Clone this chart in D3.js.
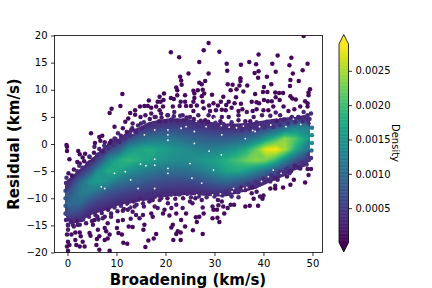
<!DOCTYPE html>
<html>
<head>
<meta charset="utf-8">
<script src="https://d3js.org/d3.v7.min.js"></script>
<style>
  html, body { margin: 0; padding: 0; background: #fff; }
  svg { display: block; }
  text { font-family: "DejaVu Sans", sans-serif; fill: #000; }
</style>
</head>
<body>
<svg id="chart" width="432" height="288"></svg>
<script>
// density, in units of 1e-4
const gridX = [0.5, 2.5, 4.5, 6.5, 8.5, 10.5, 12.5, 14.5, 16.5, 18.5, 20.5, 22.5, 24.5, 26.5, 28.5, 30.5, 32.5, 34.5, 36.5, 38.5, 40.5, 42.5, 44.5, 46.5, 48.5];
const gridY = [9, 7, 5, 3, 1, -1, -3, -5, -7, -9, -11, -13, -15, -17];
const densityRows = [
  [0, 0, 0, 0, 0, 0, 0, 0, 0, 0, 0.5, 0.6, 0.5, 0, 0, 0, 0, 0, 0, 0, 0, 0, 0, 0, 0],
  [0, 0, 0, 0, 0, 0, 0, 0, 0.6, 0.8, 1, 1.2, 1, 0.9, 0.8, 0.8, 0.7, 0.6, 0.6, 0.6, 0.7, 0.8, 0.9, 1, 1],
  [0, 0, 0, 0, 0, 0, 0.6, 1, 1.5, 2, 2.5, 2.6, 2.4, 2.1, 1.9, 1.8, 1.7, 1.7, 1.7, 1.8, 2, 2.2, 2.5, 3, 3.5],
  [0, 0, 0, 0, 0.5, 1, 2, 3, 4.5, 5.5, 6, 6, 5.5, 5, 4.5, 4, 3.8, 3.8, 4, 4.5, 5.5, 7.5, 10, 13, 13],
  [0, 0, 0.3, 0.8, 1.5, 3, 6.5, 9, 11, 11.5, 11.5, 11, 10, 9, 8.5, 8.5, 8.5, 9, 10, 12, 15.5, 19.5, 24, 21, 17],
  [0, 0.3, 1, 2.2, 6, 9, 15, 17, 18, 17, 16, 15, 14, 13, 12.5, 13, 14, 15.5, 18, 22.5, 28, 29, 25, 18, 12],
  [0.3, 1, 2.8, 7, 14, 18, 19.5, 18, 17, 15.5, 14.5, 14, 14, 15, 16, 17, 18.5, 20.5, 22.5, 24, 23, 19, 13, 8, 5],
  [1.5, 3.5, 8, 15, 18, 17, 14.5, 13, 12, 11, 10.5, 10.5, 11, 11.5, 13, 15, 17, 17.5, 16, 13, 10, 7, 4, 2.5, 1.5],
  [4, 10, 15, 16, 14, 11, 10, 9, 8, 7, 6.5, 6.5, 6.5, 7, 8, 9, 9.5, 8.5, 7, 5, 3.5, 2.3, 1.4, 0.7, 0.3],
  [8, 12, 12, 9.5, 7.5, 6.5, 5.5, 5, 4.5, 4, 3.6, 3.5, 3.3, 3.4, 3.6, 3.8, 3.8, 3.2, 2.5, 1.7, 1, 0.6, 0.3, 0, 0],
  [10, 10, 6.5, 5, 4.2, 3.2, 2.9, 2.6, 2.3, 2, 1.8, 1.8, 1.6, 1.6, 1.6, 1.5, 1.3, 1, 0.7, 0.4, 0, 0, 0, 0, 0],
  [6.5, 5.5, 3.2, 2.5, 2, 1.8, 1.6, 1.4, 1.2, 1, 0.9, 0.9, 0.7, 0.7, 0.6, 0.5, 0.4, 0, 0, 0, 0, 0, 0, 0, 0],
  [2.5, 2, 1.5, 1.2, 1.2, 1, 1, 0.8, 0.7, 0.6, 0.5, 0.5, 0.3, 0.3, 0, 0, 0, 0, 0, 0, 0, 0, 0, 0, 0],
  [1, 0.8, 0.8, 0.7, 0.7, 0.6, 0.5, 0.4, 0.4, 0.3, 0, 0, 0, 0, 0, 0, 0, 0, 0, 0, 0, 0, 0, 0, 0]
];

// single points around the dense cloud, as [broadening, residual]
const pointsUpperRight = [
  [48.2, 19.9], [28.8, 18.6], [27.8, 17.3], [31, 17], [39, 16.5], [42.9, 16.3], [45.7, 15.9], [26.9, 15.1], [32.5, 14.8], [37.1, 15.1],
  [38.5, 14.7], [41.8, 14.8], [35.4, 14.6], [45.3, 14.5], [49, 14.8], [48, 13.6], [32.6, 13.5], [39, 13.4], [38.2, 13.1], [42.5, 13.3],
  [28.8, 13], [24.7, 13], [46, 13], [40.7, 12.4], [38.9, 12.2], [45.5, 11.8], [47.2, 11.6], [35.3, 12.1], [35.3, 11.6], [28.1, 11.6],
  [26.9, 11.3], [27.4, 11], [32.7, 11], [33.7, 10.9], [35.1, 10.8], [36.7, 10.8], [41.6, 11], [45.4, 10.7], [40.1, 10.5], [34.5, 10.1],
  [33.3, 9.9], [35.9, 9.7], [49.5, 10.1], [49.2, 9.5], [49.2, 9], [25.7, 9.8], [26.6, 9.9], [27.6, 10], [27.9, 9.3], [25.9, 9.3],
  [27.4, 8.8], [29.5, 9.1], [39.9, 9.6], [40.8, 9.6], [38.3, 9.2], [42.4, 9.5], [43.2, 9.4], [44, 9.4], [45.5, 8.8], [45.9, 8.4],
  [46.6, 8.2], [31.8, 8.7], [34.4, 8.6], [40.1, 8.1], [40.9, 7.9], [38.6, 7.7], [39.1, 7.5], [37.6, 7.8], [42.5, 8.6], [41.7, 7.9],
  [43.3, 8.1], [48.5, 7.9], [49, 7.5], [49, 6.9], [34.1, 7.5], [35.4, 7.4], [32.9, 7.8], [32.4, 7.2], [31.3, 7.8], [30.7, 7.1],
  [29.8, 7.5], [27.6, 7.8], [25.9, 8.5], [25.7, 7.8], [26.4, 7.1], [25.2, 7], [27.8, 6.6], [28.9, 7.1], [29.1, 6.1], [30.3, 6.2],
  [31.5, 6.3], [32.3, 6.2], [33.5, 6.7], [34.9, 6.1], [34.9, 5.3], [35.7, 6.4], [36.6, 5.9], [37.8, 6.1], [38.6, 6.4], [40, 6.2],
  [41, 6.2], [42, 6.9], [42.5, 5.8], [44.1, 6.9], [45.1, 6.1], [46.3, 6.4], [47.5, 6.9], [48.2, 5.9], [49, 5.3], [47.1, 5],
  [45.8, 5], [43.4, 5.3], [41.4, 5.2], [39.7, 5.3], [38, 5], [36.3, 4.2], [34.9, 4.4], [33.5, 4], [32.9, 5], [31.5, 5],
  [31.2, 4.2], [29.8, 5], [28.8, 5.3], [28.1, 4.4], [26.7, 5.3], [25.7, 6.1], [25, 5], [30.8, 3.2], [33.5, 2.9], [36.3, 3.2],
  [37.3, 4.2], [38.6, 4], [40.7, 4.1], [42.4, 3.8], [44.8, 4.1], [46.5, 4.4], [48.5, 4.4], [49.2, 3.8]
];
const pointsUpperLeft = [
  [21.1, 16.9], [22.8, 16], [23, 12.4], [23.2, 11.7], [23.3, 10.9], [22.2, 10.4], [22.4, 9.9], [19.7, 9.3], [22.4, 9], [24, 9],
  [11.2, 9.2], [10.8, 7], [9, 6.5], [8.6, 5.7], [18.8, 8.7], [21.1, 8.5], [21.7, 8.3], [19.6, 8.1], [16.6, 8], [18.4, 7.8],
  [19, 7.8], [23.1, 7.8], [24, 7.8], [14.8, 6.9], [15.7, 7], [16.4, 7], [17.1, 6.7], [18.1, 6.9], [18.8, 6.2], [19.5, 6.9],
  [21.5, 6.9], [22.9, 7], [24.2, 7], [13.8, 6.2], [12.8, 5.7], [13.8, 5.4], [12.4, 4.7], [11.8, 4.1], [9.6, 3.2], [4.8, 2],
  [7.1, 1.5], [6.5, 1.3], [6.7, 0.6], [5.6, 0.2], [-0.2, -0.2], [14.9, 5], [15.9, 5.3], [17.1, 5.6], [17.8, 5], [19.1, 5.6],
  [20.5, 5.3], [21.8, 5.9], [23.5, 5.3], [13.3, 3.8], [15, 3.8], [11.3, 2.9], [13, 2.6], [10.3, 2], [11, 1.3], [8.9, 0.6],
  [7.6, 0.3], [9.6, 1], [-0.1, -0.5], [-0.1, -1.3], [0.4, -2.8], [2.2, -1.3], [3.6, -1.8], [2.5, -1.9], [2, -3.3], [2.5, -3.6],
  [3.1, -2.5], [5.5, -0.5], [4.5, -2.3], [4.6, -3.3], [0.1, -7.9]
];
const pointsLowerLeft = [
  [0.1, -14.9], [1.1, -14.9], [2.1, -14.9], [0.1, -15.8], [-0.1, -16.7], [0.8, -16.7], [1.6, -16.3], [2.5, -16.3], [2.7, -17], [1.6, -17.7],
  [3.1, -18], [0.1, -18], [-0.1, -18.9], [0.4, -18.6], [0.1, -19.7], [1.8, -18.6], [2.5, -18.9], [3.5, -18.9], [4.5, -16.4], [4.7, -16.9],
  [6, -17.5], [6.5, -17], [7.6, -17.7], [8.2, -17.4], [8.6, -16.7], [6.5, -19.5], [8.6, -19.7], [5.9, -18.6], [7.9, -16.1], [7.6, -15.5],
  [6.2, -15.8], [5.2, -14.9], [4.2, -13.1], [6.1, -13.4], [7.2, -13.7], [8.2, -14.6], [8.9, -13.4], [10.3, -14.2], [11.3, -14], [10.1, -15.5],
  [10.4, -16.4], [11.1, -16.7], [11.4, -18.2], [12.2, -18.4], [12.5, -15.2], [13.3, -15.3], [15.7, -14.9], [15.5, -15.8], [18.1, -16.6], [17.6, -17.4],
  [16.5, -17.8], [15.9, -19], [14, -13.1], [14.7, -13.7], [12.9, -13.8], [13.3, -12.5], [13.7, -11.5], [12.3, -12.1], [11.3, -12.3], [15.6, -11.5],
  [15.4, -13.1], [17.1, -12.8], [17.4, -13.4], [19.5, -12.8], [20.8, -13.2], [22.2, -12.8], [23.2, -14], [21.5, -14.9], [21.2, -15.4], [22.5, -16.1],
  [22.2, -16.6], [23.1, -16.3], [21.6, -17.7], [23.1, -17.7], [24, -15.2], [16.1, -9.4], [17.4, -10.3], [17.8, -11.5], [16.7, -10.6], [19.1, -10],
  [20.5, -10.9], [18.4, -11.8], [19.8, -12.1], [21.2, -11.8], [22.2, -11.2], [23.5, -11.8], [24.2, -12.8], [5.5, -14], [2.8, -14], [1.1, -13.8],
  [9.3, -10.3], [11, -10.9], [12.7, -10.6], [14.4, -10]
];
const pointsLowerRight = [
  [48.5, -7.1], [46.2, -6.6], [45.5, -7.5], [44, -8], [42.4, -7.7], [42.4, -8.2], [41.4, -8.2], [41.4, -6.9], [42.9, -6.6], [44.8, -6],
  [45.3, -5.4], [47.5, -4.5], [49.2, -5.7], [49, -4.6], [49.7, -4.6], [49.3, -2.9], [40, -9.5], [39.8, -10.1], [39.3, -9.7], [38.9, -11.4],
  [38, -10.1], [38.6, -8.8], [37.6, -9.1], [37.2, -11.4], [36.3, -11.5], [34.9, -9.8], [34, -11.2], [33.3, -11.2], [32.7, -11.8], [33.5, -9.7],
  [31.8, -11.5], [32, -12.8], [30.8, -11.3], [30.5, -12.1], [29.6, -11.5], [29.8, -12.1], [30.7, -10.3], [31.5, -10.6], [27.8, -12.8], [27.6, -11.7],
  [26.9, -13.4], [26.2, -13.5], [26.4, -14.4], [29.6, -13.7], [30.6, -13.6], [31, -14.4], [25.6, -15.9], [27.6, -16.6], [25.5, -10.9], [25, -10.6],
  [27.4, -10.3], [26.1, -10], [34.9, -8.8], [36.3, -8.5], [38.3, -7.9], [40.4, -6.6], [43.4, -5.7], [47.8, -3.6]
];

// points along the rim of the dense cloud, top then bottom
const rimTop = [
  [-0.2, -6.2], [0.2, -5.4], [0.9, -5.8], [1.3, -4.7], [2, -5], [2.4, -4], [3.1, -4.4], [3.4, -3.2], [4.1, -3.6], [4.5, -2.4],
  [5.2, -2.9], [5.4, -1.6], [6.1, -2], [6.5, -0.9], [7.2, -1.4], [7.5, -0.3], [8.3, -0.8], [8.6, 0.2], [9.4, -0.2], [9.8, 0.9],
  [10.6, 0.4], [10.9, 1.5], [11.7, 1], [12.1, 2.2], [12.8, 1.5], [13.2, 2.9], [14, 2.2], [14.4, 3.4], [15.2, 2.9], [15.6, 4],
  [16.3, 3.3], [16.8, 4.6], [17.5, 3.8], [18, 5], [18.7, 4.2], [19.2, 4.9], [20, 4.2], [20.4, 5.3], [21.2, 4.5], [21.7, 5.1],
  [22.4, 4.3], [23, 5.2], [23.7, 4.4], [24.3, 4.9], [25.1, 3.9], [25.8, 4.6], [26.6, 3.6], [27.2, 4.3], [28, 3.5], [28.7, 4.1],
  [29.5, 3.1], [30.2, 3.9], [31, 3], [31.8, 3.7], [32.5, 2.9], [33.2, 3.4], [34.1, 2.7], [34.8, 3.3], [35.6, 2.6], [36.4, 3.6],
  [37.2, 2.8], [38, 3.3], [38.8, 2.8], [39.5, 3.8], [40.3, 3.1], [41.1, 4], [41.9, 3.2], [42.7, 4.2], [43.4, 3.5], [44.2, 4.5],
  [45, 3.8], [45.7, 4.8], [46.5, 4], [47.2, 4.9], [48, 4.2], [48.7, 5], [49.4, 4.6], [49.7, 5.6]
];
const rimBottom = [
  [-0.3, -14], [0.1, -15], [0.7, -14.3], [1.3, -15.2], [1.9, -14.2], [2.5, -14.9], [3.2, -13.9], [3.8, -14.6], [4.4, -13.4], [5, -14.2],
  [5.7, -13.1], [6.3, -13.9], [7, -12.7], [7.6, -13.4], [8.3, -12.1], [8.9, -12.8], [9.6, -11.7], [10.2, -12.4], [10.9, -11.4], [11.5, -12],
  [12.2, -11], [12.8, -11.7], [13.5, -10.6], [14.1, -11.2], [14.8, -10.2], [15.4, -10.9], [16.2, -9.8], [17, -10.4], [18, -9.6], [18.8, -10.3],
  [19.6, -9.4], [20.4, -10], [21.2, -9.3], [22, -10.1], [22.8, -9.3], [23.6, -10], [24.4, -9.2], [25.2, -9.8], [26, -9.1], [26.8, -9.7],
  [27.6, -9], [28.4, -9.8], [29.2, -9], [30, -9.7], [30.8, -9], [31.6, -9.5], [32.4, -8.7], [33.2, -9.2], [34, -8.4], [34.8, -8.9],
  [35.5, -8], [36.2, -8.5], [37, -7.5], [37.7, -8], [38.4, -7], [39.2, -7.4], [40, -6.4], [40.8, -6.8], [41.6, -5.8], [42.4, -6.3],
  [43.2, -5.2], [44, -5.6], [44.8, -4.6], [45.6, -5], [46.4, -4], [47.2, -4.4], [48, -3.4], [48.8, -3.8]
];
// points on the left and right ends of the cloud
const rimSides = [
  [-0.4, -12.8], [-0.4, -11.4], [-0.4, -10], [-0.4, -8.6], [-0.3, -7.2], [49.7, -2.6], [49.8, -1.2], [49.9, 0.2], [49.9, 1.6], [49.9, 3]
];

// small white gaps left between the points in the dense part
const gapPoints = [
  [14.9, -3.7], [16, -4], [17.8, -3.9], [17.8, -2.8], [20.5, -4.5], [20.5, -5.4], [11.8, -5.1], [9.6, -5.4], [6.9, -7.9], [7.6, -8.2],
  [12.9, -6.6], [17.8, -8.2], [14.4, -8.2], [13.3, 2], [15.7, 1.7], [20.5, 2.6], [20.5, 1.7], [20.5, 0.7], [17.8, 2.6], [23.2, 2.9],
  [24.2, 3.2], [31.4, -2], [28.9, -1.3], [25.4, -6.3], [42, -4.8], [41, -6], [33.9, -8.2], [35.9, -8.2], [25, -3.6], [29.8, -4.8],
  [27.4, -7.2], [25.9, 2.3], [25.9, 0.1], [36.3, 1], [31.5, 1.7], [38.3, 2.3],
  [26.3, 4.2], [28.3, 3.2], [30, 4.7], [31.4, 3.4], [33, 3.1], [34.5, 3], [35.9, 3.3], [37.8, 2.5], [39.2, 3.2], [41.5, 3.5],
  [43, 4.8], [44.6, 3.2], [46.1, 4.6], [47.6, 3.6], [12.5, -11.4], [15, -10.6], [18.4, -10], [21.6, -9.7], [24, -9.6], [26.4, -9.4],
  [29.6, -9.4], [31.2, -9.2], [33.6, -8.8], [36.6, -8], [39.6, -6.9], [43.6, -5.4]
];

const xTicks = [0, 10, 20, 30, 40, 50];
const yTicks = [-20, -15, -10, -5, 0, 5, 10, 15, 20];
const colorbarTicks = [0.0005, 0.001, 0.0015, 0.002, 0.0025];
const densityMax = 0.00289;

const plotLeft = 54.5, plotRight = 322.5, plotTop = 35.5, plotBottom = 252.5;
const barLeft = 339, barRight = 348.5, barTop = 44, barBottom = 242.5;

const svg = d3.select("#chart");

const x = d3.scaleLinear().domain([-2.65, 52.05]).range([plotLeft, plotRight]);
const y = d3.scaleLinear().domain([-20, 20]).range([plotBottom, plotTop]);
const bar = d3.scaleLinear().domain([0, densityMax]).range([barBottom, barTop]);
const color = (v) => d3.interpolateViridis(Math.min(1, v / densityMax));

svg.append("defs").append("clipPath").attr("id", "plot-clip")
  .append("rect")
  .attr("x", plotLeft).attr("y", plotTop)
  .attr("width", plotRight - plotLeft).attr("height", plotBottom - plotTop);

const plot = svg.append("g").attr("clip-path", "url(#plot-clip)");

// look up the density near a point so it gets the colour of its neighbourhood
const cols = gridX.length, rows = gridY.length;
function densityAt(px, py) {
  const i = Math.max(0, Math.min(cols - 1, Math.round((px - gridX[0]) / 2)));
  const j = Math.max(0, Math.min(rows - 1, Math.round((gridY[0] - py) / 2)));
  return Math.max(0.6, densityRows[j][i]) * 1e-4;
}

function drawPoints(cls, data, fill) {
  plot.selectAll("circle." + cls)
    .data(data)
    .enter()
    .append("circle")
    .attr("class", cls)
    .attr("cx", (d) => x(d[0]))
    .attr("cy", (d) => y(d[1]))
    .attr("r", 2.25)
    .attr("fill", fill);
}

const allPoints = pointsUpperRight.concat(pointsUpperLeft, pointsLowerLeft, pointsLowerRight);
drawPoints("pt", allPoints, (d) => color(Math.min(densityAt(d[0], d[1]), 0.00045)));
drawPoints("side", rimSides, (d) => color(densityAt(d[0], d[1]) * 0.85));

// dense part of the cloud as filled density levels
const flat = densityRows.flat();
const levels = d3.range(3, 30, 0.25);
const contours = d3.contours().size([cols, rows]).thresholds(levels)(flat);
const contourPath = d3.geoPath(d3.geoTransform({
  point: function (cx, cy) {
    this.stream.point(x(gridX[0] + (cx - 0.5) * 2), y(gridY[0] - (cy - 0.5) * 2));
  }
}));
plot.selectAll("path.level")
  .data(contours)
  .enter()
  .append("path")
  .attr("class", "level")
  .attr("d", contourPath)
  .attr("fill", (d) => color(d.value * 1e-4));

drawPoints("rim", rimTop.concat(rimBottom), (d) => color(Math.min(densityAt(d[0], d[1]), 0.0004)));

plot.selectAll("circle.gap")
  .data(gapPoints)
  .enter()
  .append("circle")
  .attr("class", "gap")
  .attr("cx", (d) => x(d[0]))
  .attr("cy", (d) => y(d[1]))
  .attr("r", 0.9)
  .attr("fill", "#fff");

// axes
const xAxis = svg.append("g")
  .attr("transform", "translate(0," + plotBottom + ")")
  .call(d3.axisBottom(x).tickValues(xTicks).tickSize(3.5).tickPadding(3.5).tickFormat(d3.format("d")));
const yAxis = svg.append("g")
  .attr("transform", "translate(" + plotLeft + ",0)")
  .call(d3.axisLeft(y).tickValues(yTicks).tickSize(3.5).tickPadding(3.5).tickFormat(d3.format("d")));
[xAxis, yAxis].forEach((a) => {
  a.select(".domain").remove();
  a.selectAll("line").attr("stroke", "#000").attr("stroke-width", 0.8);
  a.selectAll("text").attr("font-size", 10).attr("fill", "#000").attr("font-family", "DejaVu Sans");
});

svg.append("rect")
  .attr("x", plotLeft).attr("y", plotTop)
  .attr("width", plotRight - plotLeft).attr("height", plotBottom - plotTop)
  .attr("fill", "none").attr("stroke", "#000").attr("stroke-width", 0.8);

svg.append("text")
  .attr("x", 188).attr("y", 285)
  .attr("text-anchor", "middle")
  .attr("font-size", 15).attr("font-weight", "bold")
  .text("Broadening (km/s)");
svg.append("text")
  .attr("transform", "translate(19,144) rotate(-90)")
  .attr("text-anchor", "middle")
  .attr("font-size", 15).attr("font-weight", "bold")
  .text("Residual (km/s)");

// colorbar
const barSteps = d3.range(0, 256);
svg.append("g").selectAll("rect")
  .data(barSteps)
  .enter()
  .append("rect")
  .attr("x", barLeft)
  .attr("width", barRight - barLeft)
  .attr("y", (d) => bar((d + 1) / 256 * densityMax))
  .attr("height", (barBottom - barTop) / 256 + 0.5)
  .attr("fill", (d) => d3.interpolateViridis(d / 255));

const barMid = (barLeft + barRight) / 2;
const tipTop = 34.5, tipBottom = 252;
svg.append("path")
  .attr("d", "M" + barLeft + "," + barTop + "L" + barMid + "," + tipTop + "L" + barRight + "," + barTop + "Z")
  .attr("fill", d3.interpolateViridis(1));
svg.append("path")
  .attr("d", "M" + barLeft + "," + barBottom + "L" + barMid + "," + tipBottom + "L" + barRight + "," + barBottom + "Z")
  .attr("fill", d3.interpolateViridis(0));
svg.append("path")
  .attr("d", "M" + barLeft + "," + barTop + "L" + barMid + "," + tipTop + "L" + barRight + "," + barTop +
    "L" + barRight + "," + barBottom + "L" + barMid + "," + tipBottom + "L" + barLeft + "," + barBottom + "Z")
  .attr("fill", "none").attr("stroke", "#000").attr("stroke-width", 0.8);

const barAxis = svg.append("g")
  .attr("transform", "translate(" + barRight + ",0)")
  .call(d3.axisRight(bar).tickValues(colorbarTicks).tickSize(3.5).tickPadding(3.5).tickFormat(d3.format(".4f")));
barAxis.select(".domain").remove();
barAxis.selectAll("line").attr("stroke", "#000").attr("stroke-width", 0.8);
barAxis.selectAll("text").attr("font-size", 10).attr("fill", "#000").attr("font-family", "DejaVu Sans");

svg.append("text")
  .attr("transform", "translate(392,143) rotate(90)")
  .attr("text-anchor", "middle")
  .attr("font-size", 10)
  .text("Density");
</script>
</body>
</html>
